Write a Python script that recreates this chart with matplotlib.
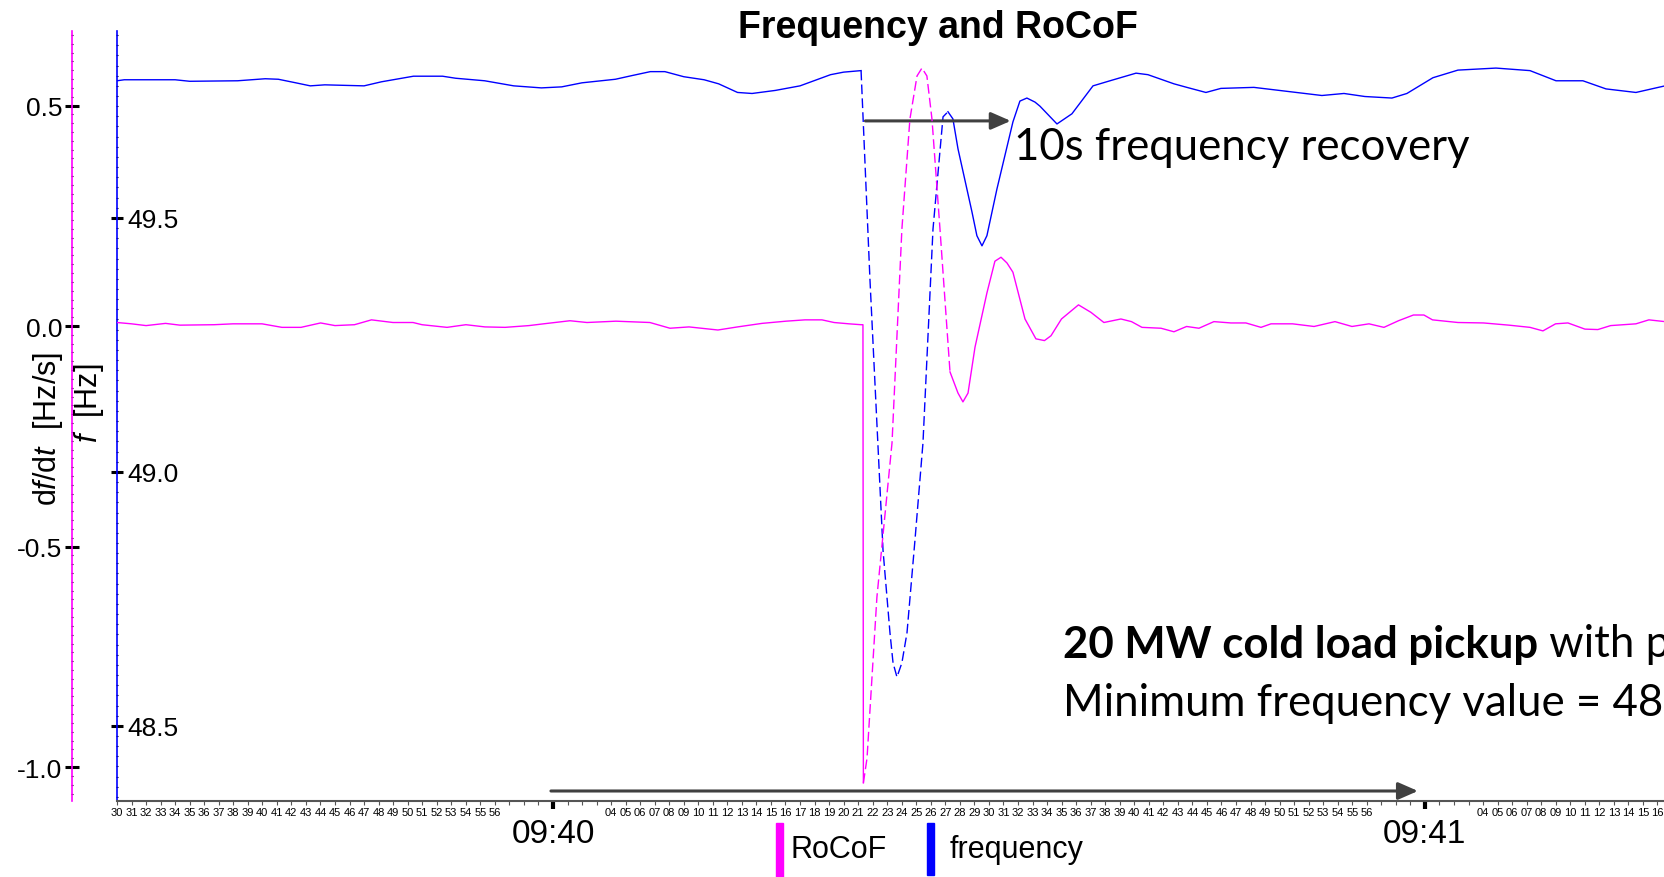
import matplotlib
matplotlib.use('Agg')
import matplotlib.pyplot as plt
import numpy as np
from matplotlib.ticker import FixedLocator, FixedFormatter, MultipleLocator, FuncFormatter
from matplotlib.patches import Rectangle

plt.rcParams['font.family'] = ['Liberation Sans', 'DejaVu Sans']
plt.rcParams['mathtext.fontset'] = 'custom'
plt.rcParams['mathtext.rm'] = 'Liberation Sans'
plt.rcParams['mathtext.it'] = 'Liberation Sans:italic'

# time in seconds relative to 09:40:00
freq_t = [-30.0, -29.5, -26.0, -25.0, -21.7, -19.8, -18.9, -17.7, -16.7, -15.7,
          -13.0, -11.8, -9.6, -7.6, -6.7, -4.7, -2.7, -0.8, 0.6, 2.0,
          4.3, 5.4, 6.7, 7.7, 9.0, 10.4, 11.4, 12.7, 13.7, 15.3,
          17.0, 19.1, 20.0, 21.2,
          21.81, 22.71, 23.19, 23.40, 23.67, 24.01, 24.36, 24.91, 25.46, 26.15,
          26.84, 27.18,
          27.52, 27.87, 28.83, 29.17, 29.52, 29.86, 30.55, 31.65, 32.13, 32.61,
          33.17, 33.51, 34.68, 35.71, 37.16,
          38.33, 40.12, 40.94, 42.73, 43.62, 44.93, 45.96, 48.23, 50.57, 52.91,
          54.43, 55.87, 57.73, 58.76, 60.55, 62.27, 64.89, 67.23, 69.02, 70.87,
          72.46, 74.52, 76.52]
freq_hz = [49.770, 49.772, 49.772, 49.769, 49.770, 49.774, 49.773, 49.766, 49.760, 49.762,
           49.760, 49.768, 49.779, 49.779, 49.775, 49.770, 49.760, 49.756, 49.758, 49.766,
           49.773, 49.780, 49.788, 49.788, 49.778, 49.772, 49.764, 49.747, 49.745, 49.751,
           49.760, 49.782, 49.787, 49.790,
           49.380, 48.846, 48.683, 48.624, 48.596, 48.624, 48.683, 48.866, 49.057, 49.478,
           49.699, 49.709,
           49.695, 49.636, 49.512, 49.465, 49.445, 49.465, 49.557, 49.689, 49.730, 49.736,
           49.728, 49.720, 49.685, 49.705, 49.760,
           49.770, 49.785, 49.782, 49.764, 49.757, 49.747, 49.755, 49.757, 49.749, 49.741,
           49.745, 49.739, 49.736, 49.745, 49.776, 49.791, 49.795, 49.790, 49.770, 49.770,
           49.754, 49.747, 49.760]
freq_gap = (21.2, 27.18)   # interpolated (dashed) part of the record

rocof_t = [-30.0, -29.0, -28.0, -26.66, -25.67, -23.33, -22.02, -20.02, -18.65, -17.34,
           -15.99, -15.0, -13.66, -12.49, -11.01, -9.63, -9.01, -7.29, -5.99, -4.68,
           -3.30, -1.65, -0.65, 1.17, 2.34, 4.33, 6.67, 8.05, 9.36, 11.35,
           12.70, 14.38, 16.03, 17.34, 18.51, 19.34, 20.37, 21.20, 21.33,
           21.36, 21.61, 22.29, 23.33, 24.01, 24.56, 25.05, 25.39, 25.73, 26.08,
           26.63, 27.32,
           27.87, 28.21, 28.56, 29.04, 29.86, 30.41, 30.83, 31.24, 31.65, 32.48,
           33.23, 33.82, 34.27, 34.99,
           36.16, 37.02, 37.91, 39.08, 39.81, 40.53, 41.84, 42.73, 43.60, 44.45,
           45.48, 46.65, 47.68, 48.72, 49.41, 50.89, 52.37, 53.81, 54.98, 56.15,
           57.18, 58.18, 59.21, 59.93, 60.52, 62.27, 64.03, 65.78, 67.23, 68.12,
           68.99, 69.84, 71.01, 71.90, 72.78, 74.52, 75.41, 76.52]
rocof = [0.008, 0.005, 0.001, 0.006, 0.002, 0.003, 0.005, 0.005, -0.003, -0.003,
         0.007, 0.001, 0.003, 0.014, 0.008, 0.008, 0.003, -0.003, 0.003, -0.002,
         -0.003, 0.001, 0.005, 0.012, 0.008, 0.011, 0.008, -0.005, -0.002, -0.009,
         -0.002, 0.006, 0.011, 0.014, 0.014, 0.008, 0.005, 0.003, 0.003,
         -1.036, -0.980, -0.615, -0.265, 0.220, 0.469, 0.567, 0.585, 0.567, 0.469,
         0.220, -0.104,
         -0.152, -0.172, -0.152, -0.048, 0.075, 0.147, 0.156, 0.143, 0.122, 0.016,
         -0.029, -0.033, -0.022, 0.016,
         0.048, 0.031, 0.008, 0.016, 0.010, -0.003, -0.005, -0.013, -0.001, -0.005,
         0.010, 0.007, 0.007, -0.003, 0.005, 0.005, -0.001, 0.010, -0.001, 0.005,
         -0.003, 0.012, 0.025, 0.025, 0.014, 0.008, 0.007, 0.002, -0.003, -0.011,
         0.005, 0.007, -0.007, -0.008, 0.001, 0.005, 0.014, 0.010]
rocof_gap = (21.36, 27.32)

minute_t = [0, 60]
minute_labels = ['09:40', '09:41']
freq_ticks = [48.5, 49.0, 49.5]
rocof_ticks = [-1.0, -0.5, 0.0, 0.5]

BLUE = '#0000ff'
MAG = '#ff00ff'
GREY = '#404040'

W, H = 1665, 878
fig = plt.figure(figsize=(W / 100, H / 100), dpi=100)
ax = fig.add_axes([117 / W, 76 / H, 1548 / W, 770 / H])
ax2 = ax.twinx()


def draw_series(a, t, v, gap, color):
    t = np.asarray(t)
    v = np.asarray(v)
    pre = t <= gap[0]
    mid = (t >= gap[0]) & (t <= gap[1])
    post = t >= gap[1]
    a.plot(t[pre], v[pre], color=color, lw=1.0)
    a.plot(t[mid], v[mid], color=color, lw=1.0, ls=(0, (7, 3)))
    a.plot(t[post], v[post], color=color, lw=1.0)


draw_series(ax, freq_t, freq_hz, freq_gap, BLUE)
draw_series(ax2, rocof_t, rocof, rocof_gap, MAG)

ax.set_xlim(-30, 76.52)
ax.set_ylim(48.352, 49.868)
ax2.set_ylim(-1.077, 0.669)

# frequency axis: spine on the left, labels inside the plot
for s in ['top', 'left']:
    ax.spines[s].set_visible(False)
ax.spines['right'].set_position(('axes', 0))
ax.spines['right'].set_color(BLUE)
ax.spines['right'].set_linewidth(1.2)
ax.spines['bottom'].set_color('#555555')
ax.spines['bottom'].set_linewidth(1.5)
ax.yaxis.set_ticks_position('right')
ax.yaxis.set_major_locator(FixedLocator(freq_ticks))
ax.yaxis.set_major_formatter(FuncFormatter(lambda v, p: f'{v:.1f}'))
ax.yaxis.set_minor_locator(MultipleLocator(0.02))
ax.tick_params(axis='y', which='major', direction='inout', length=9, width=2.2,
               color='black', labelsize=19, pad=3)
ax.tick_params(axis='y', which='minor', direction='inout', length=2, width=0.8,
               color='black')
ax.set_ylabel('$f$  [Hz]', fontsize=22, va='center')
ax.yaxis.set_label_coords(-(117 - 89) / 1548, (802 - 403) / 770)

# RoCoF axis
for s in ['top', 'right', 'bottom']:
    ax2.spines[s].set_visible(False)
ax2.spines['left'].set_visible(True)
ax2.spines['left'].set_position(('axes', -45 / 1548))
ax2.spines['left'].set_color(MAG)
ax2.spines['left'].set_linewidth(1.2)
ax2.yaxis.set_ticks_position('left')
ax2.yaxis.set_label_position('left')
ax2.yaxis.set_major_locator(FixedLocator(rocof_ticks))
ax2.yaxis.set_major_formatter(FuncFormatter(lambda v, p: f'{v:.1f}'.replace('\u2212', '-')))
ax2.yaxis.set_minor_locator(MultipleLocator(0.02))
ax2.tick_params(axis='y', which='major', direction='inout', length=10, width=2.2,
                color='black', labelsize=19, pad=2)
ax2.tick_params(axis='y', which='minor', direction='inout', length=2, width=0.8,
                color='black')
ax2.set_ylabel('d$f$/d$t$  [Hz/s]', fontsize=22, va='center')
ax2.yaxis.set_label_coords(-(117 - 48) / 1548, (802 - 429) / 770)

# time axis
ax.xaxis.set_major_locator(FixedLocator(minute_t))
ax.xaxis.set_major_formatter(FixedFormatter(minute_labels))
ax.xaxis.set_minor_locator(MultipleLocator(1))


def sec_label(v, pos):
    s = int(round(v)) % 60
    return f'{s:02d}' if 4 <= s <= 56 else ''


ax.xaxis.set_minor_formatter(FuncFormatter(sec_label))
ax.tick_params(axis='x', which='major', direction='out', length=6, width=3,
               color='black', labelsize=24, pad=6)
ax.tick_params(axis='x', which='minor', direction='out', length=3, width=0.8,
               color='#555555', labelsize=8, pad=1.5)

# title
fig.text(938 / W, 1 - 28 / H, 'Frequency and RoCoF', ha='center', va='center',
         fontsize=27, fontweight='bold')

# annotations
ax.annotate('', xy=(31.5, 49.691), xytext=(21.5, 49.691),
            arrowprops=dict(arrowstyle='-|>,head_length=0.8,head_width=0.35',
                            lw=2.2, color=GREY, shrinkA=0, shrinkB=0, mutation_scale=15))
ax.text(31.7, 49.64, '10s frequency recovery', fontsize=31.5, family='Lato',
        ha='left', va='center')
ax.annotate('', xy=(59.52, 0.013), xytext=(-0.14, 0.013),
            xycoords=ax.get_xaxis_transform(), textcoords=ax.get_xaxis_transform(),
            arrowprops=dict(arrowstyle='-|>,head_length=0.8,head_width=0.35',
                            lw=2.2, color=GREY, shrinkA=0, shrinkB=0, mutation_scale=15))

t1 = ax.text((1063 - 117) / 1548, (802 - 645) / 770, '20 MW cold load pickup',
             transform=ax.transAxes, fontsize=31.5, family='Lato', fontweight='bold',
             ha='left', va='center')
ax.annotate(' with p', xy=(1, 0.5), xycoords=t1, fontsize=31.5,
            family='Lato', ha='left', va='center')
ax.text((1063 - 117) / 1548, (802 - 703) / 770, 'Minimum frequency value = 48',
        transform=ax.transAxes, fontsize=31.5, family='Lato', ha='left', va='center')

# legend
fig.patches.append(Rectangle((776 / W, 0), 7 / W, 54 / H, transform=fig.transFigure,
                             color=MAG, zorder=5))
fig.text(791 / W, 1 - 850 / H, 'RoCoF', fontsize=22, va='center')
fig.patches.append(Rectangle((927 / W, 2 / H), 7 / W, 52 / H, transform=fig.transFigure,
                             color=BLUE, zorder=5))
fig.text(950 / W, 1 - 850 / H, 'frequency', fontsize=22, va='center')

fig.savefig('out.png', dpi=100)
